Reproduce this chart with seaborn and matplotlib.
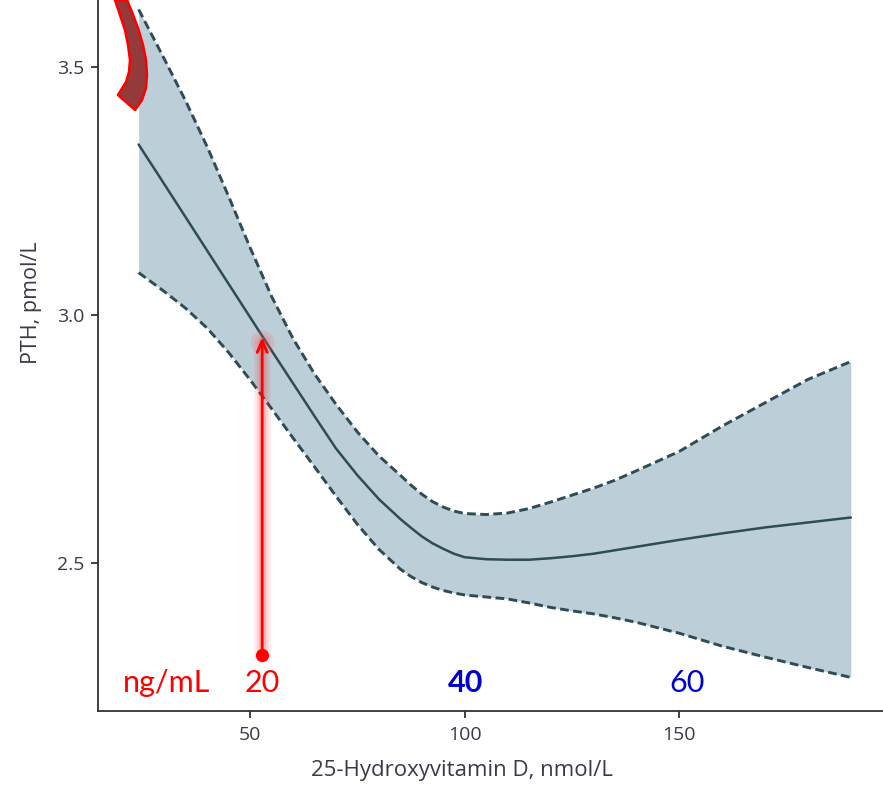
import numpy as np
import pandas as pd
import matplotlib
matplotlib.use("Agg")
import matplotlib.pyplot as plt
import seaborn as sns
from matplotlib.patches import Polygon

# ---- data ----
vitd = [24, 27, 30, 35, 40, 45, 50, 55, 60, 65, 70, 75, 80, 85, 87.5, 90, 92.5, 95,
        97.5, 100, 105, 110, 115, 120, 125, 130, 135, 140, 150, 160, 170, 180, 190]
pth = [3.343, 3.303, 3.263, 3.196, 3.129, 3.062, 2.995, 2.928, 2.862, 2.796, 2.731,
       2.677, 2.629, 2.589, 2.571, 2.554, 2.540, 2.529, 2.519, 2.512, 2.508, 2.507,
       2.507, 2.510, 2.514, 2.519, 2.526, 2.533, 2.547, 2.560, 2.572, 2.582, 2.592]
upper = [3.615, 3.565, 3.515, 3.430, 3.338, 3.238, 3.135, 3.037, 2.952, 2.881,
         2.820, 2.764, 2.716, 2.677, 2.657, 2.639, 2.624, 2.613, 2.605, 2.600,
         2.598, 2.601, 2.610, 2.623, 2.637, 2.651, 2.667, 2.686, 2.725, 2.776,
         2.823, 2.870, 2.906]
lower = [3.085, 3.066, 3.047, 3.013, 2.973, 2.924, 2.869, 2.811, 2.752, 2.694,
         2.635, 2.578, 2.528, 2.488, 2.473, 2.461, 2.452, 2.445, 2.440, 2.436,
         2.432, 2.428, 2.420, 2.411, 2.404, 2.398, 2.390, 2.381, 2.359, 2.333,
         2.311, 2.290, 2.270]

xticks = [50, 100, 150]
yticks = [2.5, 3.0, 3.5]
ngml_labels = ["ng/mL", "20", "40", "60"]
ngml_pos = [30.4, 52.8, 100.3, 151.8]
arrow_x = 52.8
arrow_y0, arrow_y1 = 2.315, 2.955

df = pd.DataFrame({"vitd": vitd, "pth": pth, "upper": upper, "lower": lower})

sns.set_theme(style="ticks")
plt.rcParams["font.family"] = ["Open Sans", "DejaVu Sans"]

W, H = 883, 786
fig = plt.figure(figsize=(W / 100, H / 100), dpi=100)
ax = fig.add_axes([98.3 / W, 1 - 710.7 / H, 1 - 98.3 / W, 710.7 / H])

line_col = "#2e4c55"
fill_col = "#bccfd9"

ax.fill_between(df["vitd"], df["lower"], df["upper"], color=fill_col, lw=0, zorder=1)
sns.lineplot(data=df, x="vitd", y="pth", ax=ax, color=line_col, lw=1.8, zorder=3)
sns.lineplot(data=df, x="vitd", y="upper", ax=ax, color=line_col, lw=2.1,
             linestyle=(0, (3, 1.5)), zorder=3)
sns.lineplot(data=df, x="vitd", y="lower", ax=ax, color=line_col, lw=2.1,
             linestyle=(0, (3, 1.5)), zorder=3)

ax.set_xlim(14.6, 197.5)
ax.set_ylim(2.203, 3.634)
ax.set_xticks(xticks)
ax.set_xticklabels([str(t) for t in xticks])
ax.set_yticks(yticks)
ax.set_yticklabels([f"{t:.1f}" for t in yticks])
sns.despine(ax=ax)
for s in ["left", "bottom"]:
    ax.spines[s].set_color("#333333")
    ax.spines[s].set_linewidth(1.3)
ax.tick_params(axis="both", direction="out", length=5, width=1.3, color="#333333",
               labelsize=14, labelcolor="#3a3a4a")
ax.tick_params(axis="x", pad=6)
ax.tick_params(axis="y", pad=5)
ax.set_xlabel("25-Hydroxyvitamin D, nmol/L", fontsize=16, color="#3a3a4a")
ax.xaxis.set_label_coords((462 - 98.3) / 784.7, -(760 - 710.7) / 710.7)
ax.set_ylabel("PTH, pmol/L", fontsize=15.5, color="#3a3a4a")
ax.yaxis.set_label_coords(-0.072, (710.7 - 303) / 710.7)

# ---- red annotation arrow with glow ----
for lw, a in [(12, 0.10), (8, 0.13), (5, 0.18)]:
    ax.plot([arrow_x, arrow_x], [arrow_y0, arrow_y1 - 0.01], color="#ff3030",
            lw=lw, alpha=a, solid_capstyle="round", zorder=5)
ax.scatter([arrow_x], [arrow_y1 - 0.01], s=300, color="#ff6060", alpha=0.18, lw=0, zorder=5)
ax.annotate("", xy=(arrow_x, arrow_y1), xytext=(arrow_x, arrow_y0),
            arrowprops=dict(arrowstyle="->,head_length=0.7,head_width=0.3",
                            color="#ff0000", lw=2.0, shrinkA=0, shrinkB=0), zorder=6)
ax.scatter([arrow_x], [arrow_y0], s=90, color="#ff0000", lw=0, zorder=7)

# ---- ng/mL labels ----
ty = 2.259
colors = ["#ff0000", "#ff0000", "#0000cc", "#0000cc"]
weights = ["normal", "normal", "bold", "normal"]
for lab, xp, c, w in zip(ngml_labels, ngml_pos, colors, weights):
    ax.text(xp, ty, lab, color=c, fontsize=22, ha="center", va="center",
            fontweight=w, family=["Lato", "DejaVu Sans"], zorder=6)

# ---- decorative curved red shape at top-left ----
pts_px = [(115, 0), (120, 15), (125, 30), (128, 45), (130, 60), (129, 72), (126, 82),
          (118, 95), (135, 110), (142, 100), (146, 88), (147, 75), (146, 60),
          (143, 45), (138, 28), (132, 12), (127, 0)]
pts = [(x / W, 1 - y / H) for x, y in pts_px]
fig.patches.append(Polygon(pts, closed=True, transform=fig.transFigure,
                           facecolor="#943a3a", edgecolor="#ff0000", lw=1.8,
                           joinstyle="round", zorder=10))

fig.savefig("out.png", dpi=100)
